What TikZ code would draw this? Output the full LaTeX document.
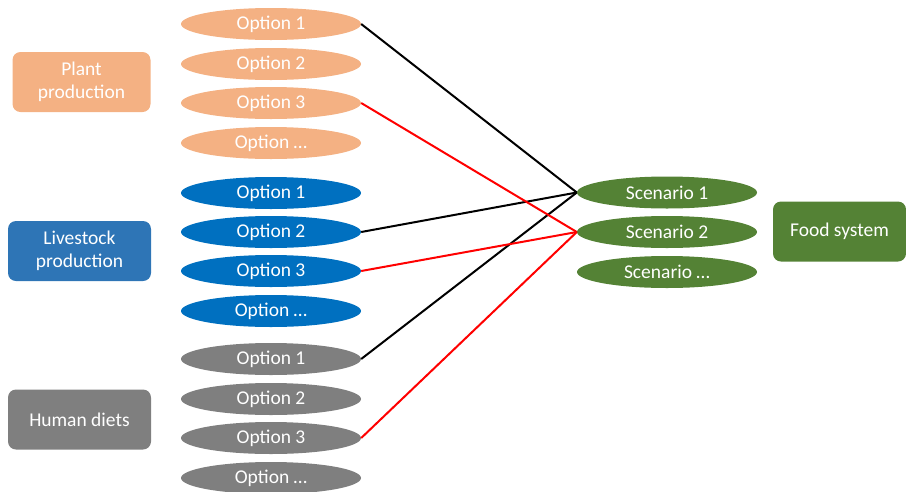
\documentclass[tikz,border=0pt]{standalone}
\usepackage{fontspec}
\setmainfont{Carlito}
\usetikzlibrary{shapes.geometric}
\definecolor{plantc}{HTML}{F4B183}
\definecolor{livec}{HTML}{0070C0}
\definecolor{liveboxc}{HTML}{2E75B6}
\definecolor{dietc}{HTML}{7F7F7F}
\definecolor{foodc}{HTML}{548235}
\tikzset{
  opt/.style={ellipse,minimum width=180pt,minimum height=32pt,inner sep=0pt,
    text=white,font=\fontsize{19.5}{23}\selectfont},
  sector/.style={rounded corners=8pt,minimum width=143pt,minimum height=60pt,
    inner sep=0pt,text=white,align=center,font=\fontsize{19.5}{23}\selectfont},
  link/.style={line width=2pt}
}
\begin{document}
\begin{tikzpicture}[x=1pt,y=-1pt]
    \useasboundingbox (0,0) rectangle (906,491);
    % sectors
    \node[sector,fill=plantc,minimum width=138pt] (plant) at (81.5,82) {Plant\\production};
    \node[sector,fill=liveboxc] (live) at (79.5,251) {Livestock\\production};
    \node[sector,fill=dietc] (diet) at (79.5,419.5) {Human diets};
    \node[sector,fill=foodc,minimum width=133pt] (food) at (839.5,231.5) {Food system};
    % plant options
    \node[opt,fill=plantc] (p1) at (271,24) {Option 1};
    \node[opt,fill=plantc] (p2) at (271,64) {Option 2};
    \node[opt,fill=plantc] (p3) at (271,103) {Option 3};
    \node[opt,fill=plantc] (p4) at (271,143) {Option …};
    % livestock options
    \node[opt,fill=livec] (l1) at (271,193) {Option 1};
    \node[opt,fill=livec] (l2) at (271,232) {Option 2};
    \node[opt,fill=livec] (l3) at (271,271) {Option 3};
    \node[opt,fill=livec] (l4) at (271,311) {Option …};
    % diet options
    \node[opt,fill=dietc] (d1) at (271,359) {Option 1};
    \node[opt,fill=dietc] (d2) at (271,399) {Option 2};
    \node[opt,fill=dietc] (d3) at (271,438) {Option 3};
    \node[opt,fill=dietc] (d4) at (271,478) {Option …};
    % scenarios
    \node[opt,fill=foodc] (s1) at (667,192.5) {Scenario 1};
    \node[opt,fill=foodc] (s2) at (667,232) {Scenario 2};
    \node[opt,fill=foodc] (s3) at (667,272) {Scenario …};
    % links
    \draw[link,black] (p1.east) -- (s1.west);
    \draw[link,black] (l2.east) -- (s1.west);
    \draw[link,black] (d1.east) -- (s1.west);
    \draw[link,red] (p3.east) -- (s2.west);
    \draw[link,red] (l3.east) -- (s2.west);
    \draw[link,red] (d3.east) -- (s2.west);
   \end{tikzpicture}
\end{document}
